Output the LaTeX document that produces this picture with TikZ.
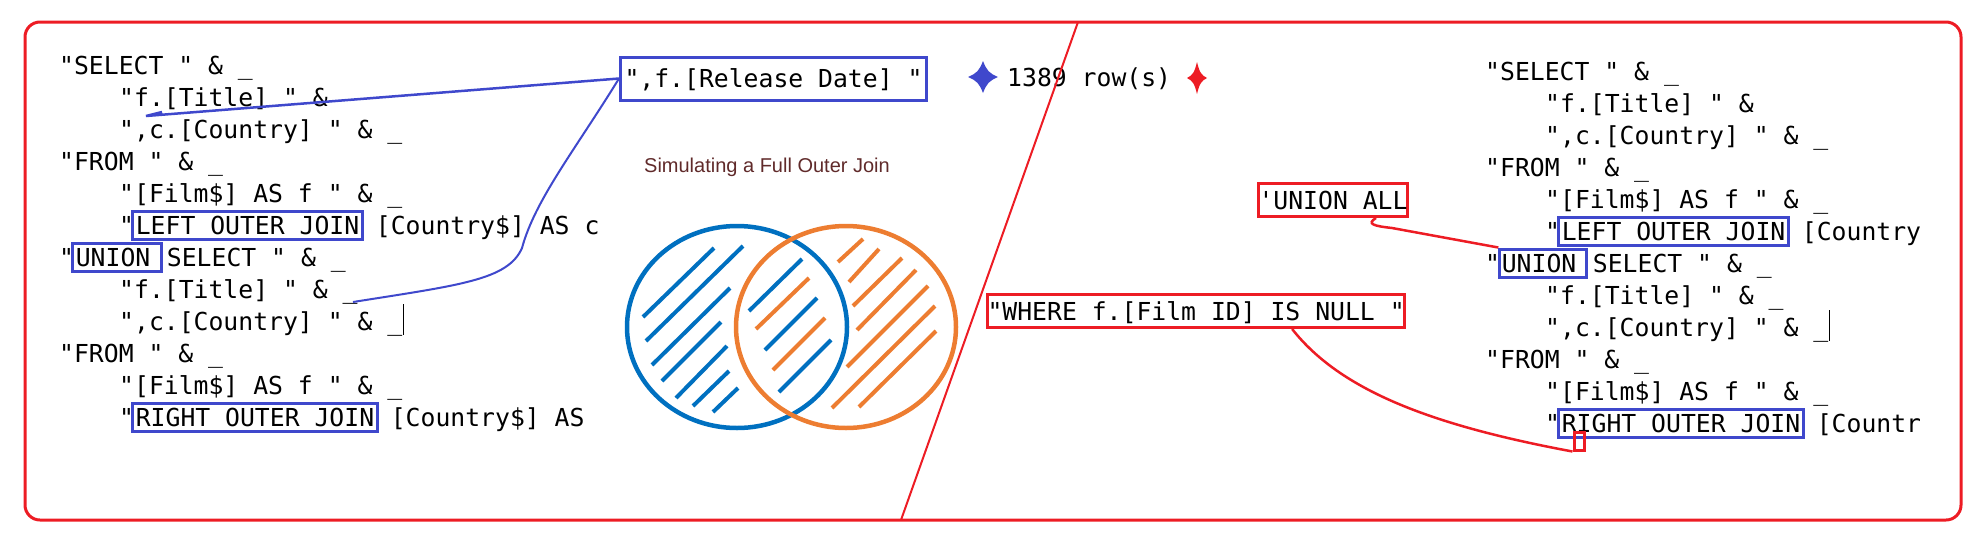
\documentclass[tikz,border=0pt]{standalone}
\usepackage{fontspec}
\usetikzlibrary{positioning}
\newfontfamily\codefont[Ligatures=TeXOff]{DejaVu Sans Mono}
\newfontfamily\labelfont{Liberation Sans}

\definecolor{jblue}{RGB}{63,72,204}
\definecolor{mred}{RGB}{237,28,36}
\definecolor{vblue}{RGB}{0,112,192}
\definecolor{vorange}{RGB}{237,125,49}
\definecolor{titlered}{RGB}{96,42,42}

\tikzset{
	code/.style={font=\codefont\fontsize{24.75}{30}\selectfont, inner sep=0pt, anchor=west, text height=22pt, text depth=4pt},
	jbox/.style={code, draw=jblue, line width=3pt, inner xsep=3pt, inner ysep=1pt},
	rbox/.style={code, draw=mred, line width=3pt, inner xsep=0pt, inner ysep=3.5pt},
	hblue/.style={vblue, line width=4pt},
	horange/.style={vorange, line width=4pt}
}

\begin{document}
\begin{tikzpicture}[x=1pt,y=-1pt]
	\useasboundingbox (0,0) rectangle (1987,542);

	% Draw the outer frame
	\draw[mred, line width=3pt, rounded corners=15pt] (25,22) rectangle (1961,520);

	% Left query, plain lines
	\foreach \n/\x/\y/\t in {l0/59/65/{"SELECT " \& \_}, l1/119/97/{"f.[Title] " \&},
		l2/119/129/{",c.[Country] " \& \_}, l3/59/161/{"FROM " \& \_},
		l4/119/193/{"[Film\$] AS f " \& \_}, l7/119/289/{"f.[Title] " \& \_},
		l8/119/321/{",c.[Country] " \& \_}, l9/59/353/{"FROM " \& \_},
		l10/119/385/{"[Film\$] AS f " \& \_}}
		\node[code] (\n) at (\x,\y) {\t};

	% Left query, lines with a boxed keyword
	\node[code] (q5) at (119,225) {"};
	\node[jbox, right=-3pt of q5] (lj) {LEFT OUTER JOIN};
	\node[code, right=-3pt of lj] (l5) {\ [Country\$] AS c};
	\node[code] (q6) at (59,257) {"};
	\node[jbox, right=-3pt of q6] (lu) {UNION\kern8pt};
	\node[code, right=3.9pt of lu] (l6) {SELECT " \& \_};
	\node[code] (q11) at (119,417) {"};
	\node[jbox, right=-3pt of q11] (lr) {RIGHT OUTER JOIN};
	\node[code, right=-3pt of lr] (l11) {\ [Country\$] AS};

	% Cursor after the left line
	\draw[line width=1.2pt] ([xshift=1pt]l8.east) +(0,-17) -- +(0,14);

	% Right query, plain lines
	\foreach \n/\x/\y/\t in {r0/1485/71/{"SELECT " \& \_}, r1/1545/103/{"f.[Title] " \&},
		r2/1545/135/{",c.[Country] " \& \_}, r3/1485/167/{"FROM " \& \_},
		r4/1545/199/{"[Film\$] AS f " \& \_}, r7/1545/295/{"f.[Title] " \& \_},
		r8/1545/327/{",c.[Country] " \& \_}, r9/1485/359/{"FROM " \& \_},
		r10/1545/391/{"[Film\$] AS f " \& \_}}
		\node[code] (\n) at (\x,\y) {\t};

	% Right query, lines with a boxed keyword
	\node[code] (s5) at (1545,231) {"};
	\node[jbox, right=-3pt of s5] (rj) {LEFT OUTER JOIN};
	\node[code, right=-3pt of rj] (r5) {\ [Country};
	\node[code] (s6) at (1485,263) {"};
	\node[jbox, right=-2pt of s6, inner xsep=2pt] (ru) {UNION\kern8pt};
	\node[code, right=4.9pt of ru] (r6) {SELECT " \& \_};
	\node[code] (s11) at (1545,423) {"};
	\node[jbox, right=-3pt of s11] (rr) {RIGHT OUTER JOIN};
	\node[code, right=-3pt of rr] (r11) {\ [Countr};

	% Cursor after the right line
	\draw[line width=1.2pt] ([xshift=1pt]r8.east) +(0,-17) -- +(0,14);

	% Added column
	\node[jbox, inner xsep=4pt, inner ysep=8.5pt] (rel) at (619,78.5) {",f.[Release Date] "};

	% Row count between two stars
	\begin{scope}[shift={(983,77)}]
		\fill[jblue] (0,-16) .. controls (4,-6) and (6,-4) .. (15,0) .. controls (6,4) and (4,6) .. (0,16)
			.. controls (-4,6) and (-6,4) .. (-15,0) .. controls (-6,-4) and (-4,-6) .. cycle;
	\end{scope}
	\node[code] (rows) at (1007,77) {1389 row(s)};
	\begin{scope}[shift={(1197,78)}]
		\fill[mred] (0,-16) .. controls (2.5,-6) and (4,-3) .. (10,0) .. controls (4,3) and (2.5,6) .. (0,16)
			.. controls (-2.5,6) and (-4,3) .. (-10,0) .. controls (-4,-3) and (-2.5,-6) .. cycle;
	\end{scope}

	% Venn diagram
	\node[font=\labelfont\fontsize{20}{24}\selectfont, text=titlered] (ttl) at (767,167) {Simulating a Full Outer Join};
	\draw[vblue, line width=4.5pt] (737,327) ellipse [x radius=110, y radius=101];
	\draw[vorange, line width=4.5pt] (846,327) ellipse [x radius=110, y radius=101];
	\foreach \a/\b/\c/\d in {643/317/714/248, 646/341/743/246, 652/365/730/288, 662/381/721/322,
		676/398/727/346, 693/406/729/371, 713/412/738/388, 749/311/802/259, 765/350/817/298, 779/392/831/340}
		\draw[hblue] (\a,\b) -- (\c,\d);
	\foreach \a/\b/\c/\d in {756/329/809/278, 773/370/825/318, 838/262/863/239, 849/282/879/249,
		853/306/902/258, 857/330/916/270, 847/367/928/286, 832/408/935/306, 859/407/936/331}
		\draw[horange] (\a,\b) -- (\c,\d);

	% Notes on the right
	\node[rbox] (ua) at (1257,200) {'UNION ALL};
	\node[rbox] (wh) at (986,311) {"WHERE f.[Film ID] IS NULL "};
	\node[draw=mred, line width=3pt, minimum width=10pt, minimum height=18pt, inner sep=0pt] (sr) at (1579,441) {};

	% Blue connectors from the added column
	\coordinate (ct) at (146,116);
	\coordinate (cb) at (353,302);
	\draw[jblue, line width=2.5pt] (rel.west) -- (ct) -- +(16,-4);
	\draw[jblue, line width=2pt] (rel.west) .. controls (575,150) and (535,200) .. (522,248)
		.. controls (508,280) and (460,285) .. (cb);

	% Red connectors
	\coordinate (uas) at ([xshift=43pt]ua.south);
	\draw[mred, line width=2.5pt] (uas) .. controls (1366,224) and (1374,226) .. (1392,228) -- (ru.north west);
	\coordinate (whs) at ([xshift=96pt]wh.south);
	\draw[mred, line width=2.5pt] (whs) .. controls (1340,390) and (1430,425) .. (sr.south west);

	% Dividing line
	\coordinate (dtop) at (1078,22);
	\coordinate (dbot) at (901,520);
	\draw[mred, line width=2pt] (dtop) -- (dbot);

\end{tikzpicture}
\end{document}
